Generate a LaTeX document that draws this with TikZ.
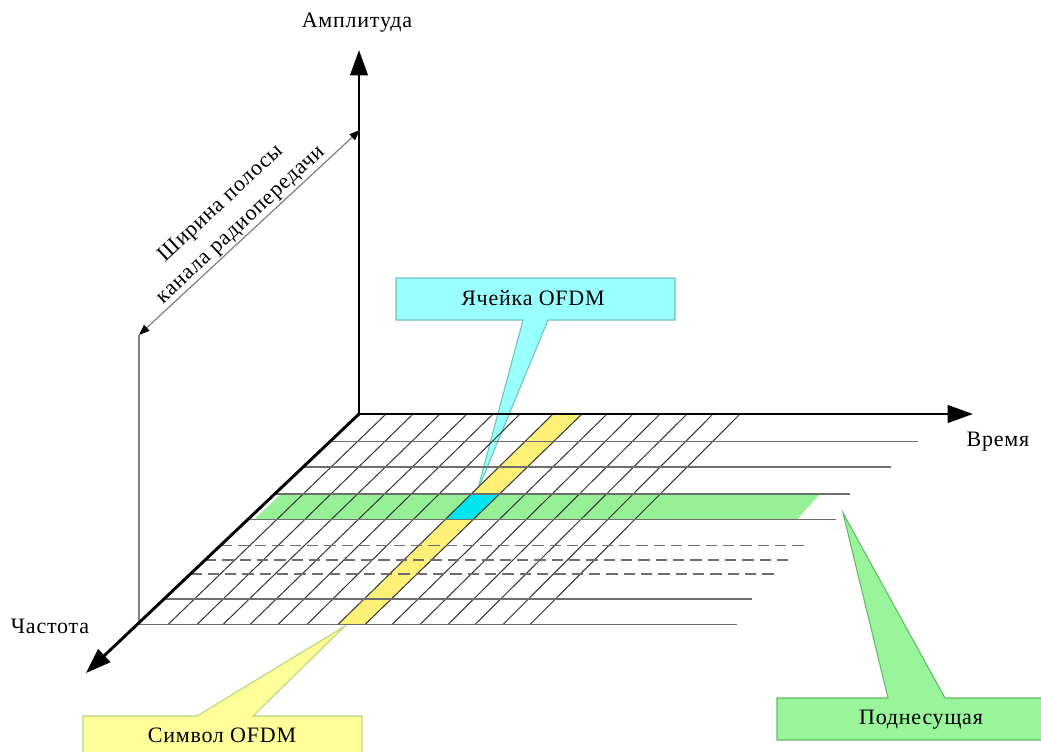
\documentclass[tikz,border=0pt]{standalone}
\usepackage{fontspec}
\setmainfont{Liberation Serif}[LetterSpace=3.5]
\usetikzlibrary{arrows.meta}
\definecolor{cyanfill}{RGB}{153,255,255}
\definecolor{cyanedge}{RGB}{110,195,180}
\definecolor{yelfill}{RGB}{255,255,153}
\definecolor{yeledge}{RGB}{180,215,120}
\definecolor{grnfill}{RGB}{153,245,153}
\definecolor{grnedge}{RGB}{100,185,100}
\definecolor{grnstrip}{RGB}{150,240,150}
\definecolor{yelstrip}{RGB}{255,240,120}
\definecolor{cellcol}{RGB}{0,230,240}
\definecolor{hlinecol}{RGB}{110,110,110}
\definecolor{dlinecol}{RGB}{50,50,50}
\begin{document}
\begin{tikzpicture}[x=0.75pt,y=-0.75pt,
  lbl/.style={font=\fontsize{16.5}{21.8}\selectfont, inner sep=0pt},
  axisline/.style={line width=2.2pt, black, -{Triangle[length=19pt,width=13pt]}},
  hline/.style={draw=hlinecol, line width=1.3pt},
  dline/.style={draw=dlinecol, line width=0.75pt},
  dashline/.style={draw=hlinecol, line width=1.3pt, dash pattern=on 8.5pt off 4.5pt},
  callout/.style={line width=0.8pt, line join=miter}
]
\useasboundingbox (0,0) rectangle (1041,751);
\clip (0,0) rectangle (1041,751);

% callouts (under grid)
\draw[callout, fill=cyanfill, draw=cyanedge] (396,278) -- (675,278) -- (675,320) -- (548,320) -- (477,492) -- (523,320) -- (396,320) -- cycle;
\draw[callout, fill=yelfill, draw=yeledge] (83,716) -- (197,716) -- (345,626) -- (253,716) -- (362,716) -- (362,765) -- (83,765) -- cycle;
\draw[callout, fill=grnfill, draw=grnedge] (777,698) -- (888,698) -- (843,513) -- (945,698) -- (1050,698) -- (1050,740) -- (777,740) -- cycle;

% strips
\fill[grnstrip] (281,494) -- (820,494) -- (797,519.5) -- (254,519.5) -- cycle;
\fill[yelstrip] (553,414) -- (582,414) -- (365,624.5) -- (338,624.5) -- cycle;
\begin{scope}
  \clip (553,414) -- (582,414) -- (365,624.5) -- (338,624.5) -- cycle;
  \fill[cellcol] (281,494) -- (820,494) -- (797,519.5) -- (254,519.5) -- cycle;
\end{scope}

% grid diagonals
\foreach \t/\b in {386/168, 413/197, 440/223, 467/250, 493/278, 520/307, 553/338, 582/365, 607/392, 633/420, 660/448, 687/475, 713/503, 740/530}
  \draw[dline] (\t,414) -- (\b,624.5);

% horizontal lines
\foreach \y/\xr in {441.5/918, 467/891, 494/850, 519.5/836, 599/752, 624.5/737}
  \draw[hline] ({359-1.054*(\y-414)},\y) -- (\xr,\y);
\foreach \y/\xr in {545.5/809, 560/793, 574/778}
  \draw[dashline] ({359-1.054*(\y-414)},\y) -- (\xr,\y);

% bandwidth marker
\coordinate (bwlow) at (139,335);
\coordinate (bwhigh) at (360,130);
\coordinate (bwfoot) at (139,624.5);
\draw[draw=gray, line width=1.1pt] (bwfoot) -- (bwlow);
\draw[draw=gray, line width=0.9pt, {Triangle[length=8pt,width=6pt,black]}-{Triangle[length=8pt,width=6pt,black]}] (bwlow) -- (bwhigh);
\node[lbl, rotate=43, align=center] (bwtext) at (231,214.5) {Ширина полосы\\канала радиопередачи};

% axes
\coordinate (O) at (359,414);
\coordinate (A) at (359,50);
\coordinate (T) at (973,414);
\coordinate (F) at (86,673);
\draw[axisline] (O) -- (A);
\draw[axisline] (O) -- (T);
\draw[axisline] (O) -- (F);

% labels
\node[lbl] (amp) at (357,23) {Амплитуда};
\node[lbl] (time) at (998,442) {Время};
\node[lbl] (freq) at (50,626) {Частота};
\node[lbl] (cell) at (533,298) {Ячейка OFDM};
\node[lbl] (sym) at (222,735) {Символ OFDM};
\node[lbl] (sub) at (921,720) {Поднесущая};
\end{tikzpicture}
\end{document}
